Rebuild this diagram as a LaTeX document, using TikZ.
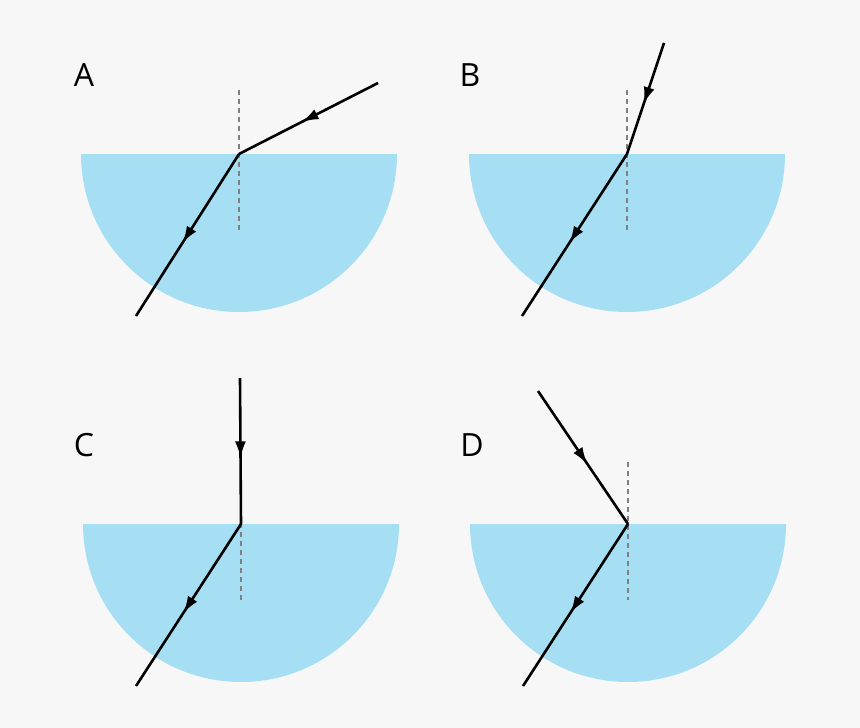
\documentclass[tikz,border=0pt]{standalone}
\usepackage{fontspec}
\setmainfont{Open Sans}
\usetikzlibrary{decorations.markings,arrows.meta}
\definecolor{bg}{HTML}{F7F7F7}
\definecolor{water}{HTML}{A6DEF4}
\tikzset{
  ray/.style={line width=2.6pt,postaction={decorate},decoration={markings,mark=at position 0.55 with {\arrow{Latex[length=17pt,width=11pt]}}}},
  normal/.style={gray,dash pattern=on 5pt off 4pt,line width=1.1pt},
  lab/.style={font=\fontsize{32}{32}\selectfont,anchor=center}
}
\begin{document}
\begin{tikzpicture}[x=1pt,y=-1pt]
\fill[bg] (0,0) rectangle (860,728);
\useasboundingbox (0,0) rectangle (860,728);
% A
\fill[water] (81,154) arc[start angle=180,end angle=0,radius=158] -- cycle;
\coordinate (pA) at (239,154);
\draw[normal] (239,90) -- (239,230);
\coordinate (a1) at (378,83); \coordinate (a2) at (136,316);
\draw[ray] (a1) -- (pA); \draw[ray] (pA) -- (a2);
\node[lab] (lA) at (84,75) {A};
% B
\fill[water] (469,154) arc[start angle=180,end angle=0,radius=158] -- cycle;
\coordinate (pB) at (627,154);
\draw[normal] (627,90) -- (627,230);
\coordinate (b1) at (664,43); \coordinate (b2) at (522,316);
\draw[ray] (b1) -- (pB); \draw[ray] (pB) -- (b2);
\node[lab] (lB) at (470,75) {B};
% C
\fill[water] (83,524) arc[start angle=180,end angle=0,radius=158] -- cycle;
\coordinate (pC) at (241,524);
\draw[normal] (241,460) -- (241,600);
\coordinate (c1) at (240,378); \coordinate (c2) at (136,686);
\draw[ray] (c1) -- (pC); \draw[ray] (pC) -- (c2);
\node[lab] (lC) at (84,445) {C};
% D
\fill[water] (470,524) arc[start angle=180,end angle=0,radius=158] -- cycle;
\coordinate (pD) at (628,524);
\draw[normal] (628,462) -- (628,600);
\coordinate (d1) at (538,391); \coordinate (d2) at (523,686);
\draw[ray] (d1) -- (pD); \draw[ray] (pD) -- (d2);
\node[lab] (lD) at (472,445) {D};
\end{tikzpicture}
\end{document}
